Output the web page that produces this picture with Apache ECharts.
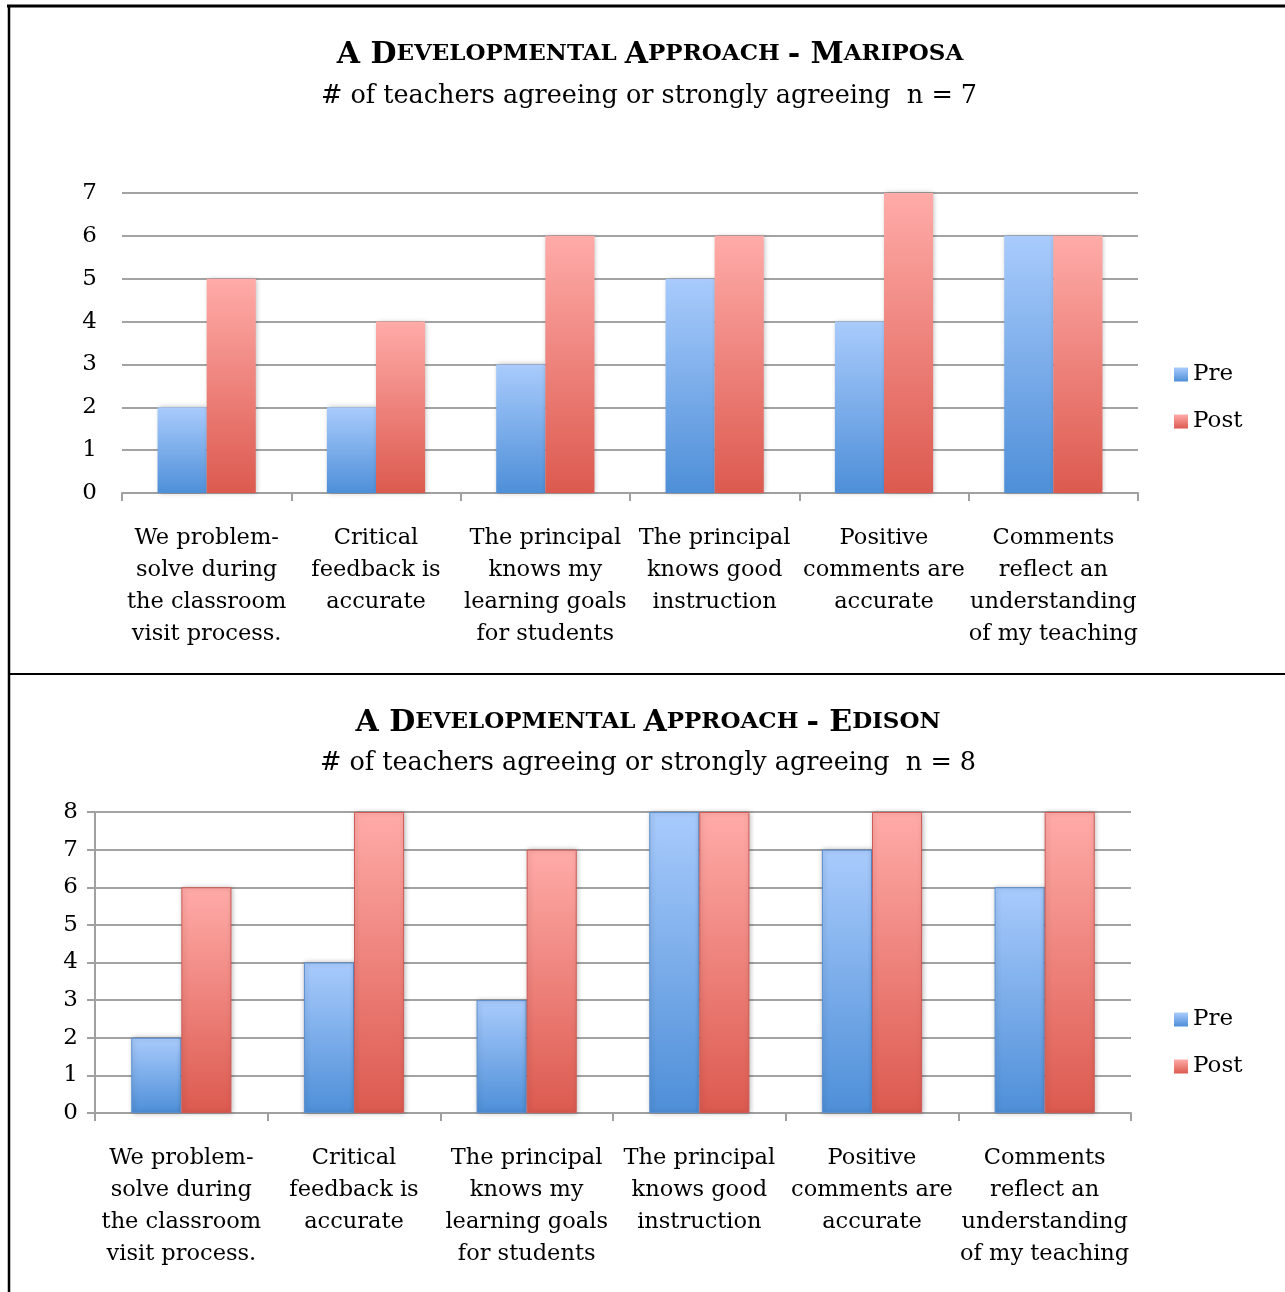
<!DOCTYPE html>
<html>
<head>
<meta charset="utf-8">
<title>A Developmental Approach</title>
<script src="https://cdn.jsdelivr.net/npm/echarts@6/dist/echarts.min.js"></script>
<style>
  html, body { margin: 0; padding: 0; background: #ffffff; }
  #chart { width: 1285px; height: 1292px; }
</style>
</head>
<body>
<div id="chart"></div>
<script>
// Survey statements shared by both schools
const categories = [
  'We problem-\nsolve during\nthe classroom\nvisit process.',
  'Critical\nfeedback is\naccurate',
  'The principal\nknows my\nlearning goals\nfor students',
  'The principal\nknows good\ninstruction',
  'Positive\ncomments are\naccurate',
  'Comments\nreflect an\nunderstanding\nof my teaching'
];

// Mariposa, n = 7
const mariposaPre  = [2, 2, 3, 5, 4, 6];
const mariposaPost = [5, 4, 6, 6, 7, 6];
const mariposaMax = 7;

// Edison, n = 8
const edisonPre  = [2, 4, 3, 8, 7, 6];
const edisonPost = [6, 8, 7, 8, 8, 8];
const edisonMax = 8;

const seriesNames = ['Pre', 'Post'];

const FONT = '"DejaVu Serif", "Liberation Serif", serif';

function grad(top, bottom) {
  return new echarts.graphic.LinearGradient(0, 0, 0, 1, [
    { offset: 0, color: top },
    { offset: 1, color: bottom }
  ]);
}
const preFill  = () => grad('#a9cbfc', '#4e8fd8');
const postFill = () => grad('#ffaba8', '#dc5a4f');

// small-caps title: full-size initials, reduced capitals for the rest
function titleRich() {
  return {
    b: { fontFamily: FONT, fontWeight: 'bold', fontSize: 30, color: '#000' },
    s: { fontFamily: FONT, fontWeight: 'bold', fontSize: 23, color: '#000', padding: [0, 0, 1, 0] }
  };
}

function titleText(place) {
  return '{b|A D}{s|EVELOPMENTAL }{b|A}{s|PPROACH }{b|- ' + place[0] + '}{s|' + place.slice(1) + '}';
}

const subtitle = (n) => '# of teachers agreeing or strongly agreeing  n = ' + n;

function xAxis(gridIndex) {
  return {
    type: 'category',
    gridIndex: gridIndex,
    data: categories,
    axisLine: { show: true, lineStyle: { color: '#a0a0a0', width: 2 } },
    axisTick: { show: true, length: 8, lineStyle: { color: '#a0a0a0', width: 2 } },
    axisLabel: {
      interval: 0,
      margin: 29,
      fontFamily: FONT,
      fontSize: 22.5,
      lineHeight: 32,
      color: '#000'
    }
  };
}

function yAxis(gridIndex, max, showLine) {
  return {
    type: 'value',
    gridIndex: gridIndex,
    min: 0,
    max: max,
    interval: 1,
    axisLine: { show: showLine, lineStyle: { color: '#a0a0a0', width: 2 } },
    axisTick: { show: showLine, inside: false, length: 8, lineStyle: { color: '#a0a0a0', width: 2 } },
    splitLine: { show: true, lineStyle: { color: '#a3a3a3', width: 2 } },
    axisLabel: {
      margin: showLine ? 17 : 25,
      fontFamily: FONT,
      fontSize: 23,
      color: '#000'
    }
  };
}

function barSeries(name, data, gridIndex, fill, border) {
  return {
    name: name,
    type: 'bar',
    xAxisIndex: gridIndex,
    yAxisIndex: gridIndex,
    data: data,
    barGap: '0%',
    barCategoryGap: '42%',
    itemStyle: {
      color: fill(),
      borderColor: border || 'transparent',
      borderWidth: border ? 1 : 0,
      shadowColor: 'rgba(0,0,0,0.28)',
      shadowBlur: 5,
      shadowOffsetX: 1,
      shadowOffsetY: 0
    },
    emphasis: { disabled: true }
  };
}

function legend(top) {
  return {
    data: seriesNames,
    orient: 'vertical',
    left: 1169,
    top: top,
    icon: 'rect',
    itemWidth: 14,
    itemHeight: 14,
    itemGap: 20,
    selectedMode: false,
    textStyle: { fontFamily: FONT, fontSize: 23, color: '#000', lineHeight: 27 }
  };
}

const chart = echarts.init(document.getElementById('chart'), null, { renderer: 'canvas' });

chart.setOption({
  backgroundColor: '#ffffff',
  animation: false,
  grid: [
    { left: 122, right: 147, top: 193, height: 300, containLabel: false },
    { left: 95, right: 154, top: 812, height: 301, containLabel: false }
  ],
  xAxis: [xAxis(0), xAxis(1)],
  yAxis: [yAxis(0, mariposaMax, false), yAxis(1, edisonMax, true)],
  legend: [legend(356), legend(1001)],
  series: [
    barSeries('Pre', mariposaPre, 0, preFill),
    barSeries('Post', mariposaPost, 0, postFill),
    barSeries('Pre', edisonPre, 1, preFill, '#5a8fd0'),
    barSeries('Post', edisonPost, 1, postFill, '#d05a55')
  ],
  graphic: [
    // frame around the two panels
    { type: 'line', shape: { x1: 7, y1: 6, x2: 1285, y2: 6 }, style: { stroke: '#000', lineWidth: 3 } },
    { type: 'line', shape: { x1: 9, y1: 5, x2: 9, y2: 1292 }, style: { stroke: '#000', lineWidth: 2.5 } },
    { type: 'line', shape: { x1: 8, y1: 674, x2: 1285, y2: 674 }, style: { stroke: '#000', lineWidth: 2 } },
    // panel titles
    {
      type: 'text', x: 650, y: 55,
      style: { text: titleText('MARIPOSA'), align: 'center', verticalAlign: 'middle', rich: titleRich() }
    },
    {
      type: 'text', x: 649, y: 96,
      style: { text: subtitle(7), align: 'center', verticalAlign: 'middle', fontFamily: FONT, fontSize: 25.5, fill: '#000' }
    },
    {
      type: 'text', x: 648, y: 723,
      style: { text: titleText('EDISON'), align: 'center', verticalAlign: 'middle', rich: titleRich() }
    },
    {
      type: 'text', x: 648, y: 763,
      style: { text: subtitle(8), align: 'center', verticalAlign: 'middle', fontFamily: FONT, fontSize: 25.5, fill: '#000' }
    }
  ]
});
</script>
</body>
</html>
